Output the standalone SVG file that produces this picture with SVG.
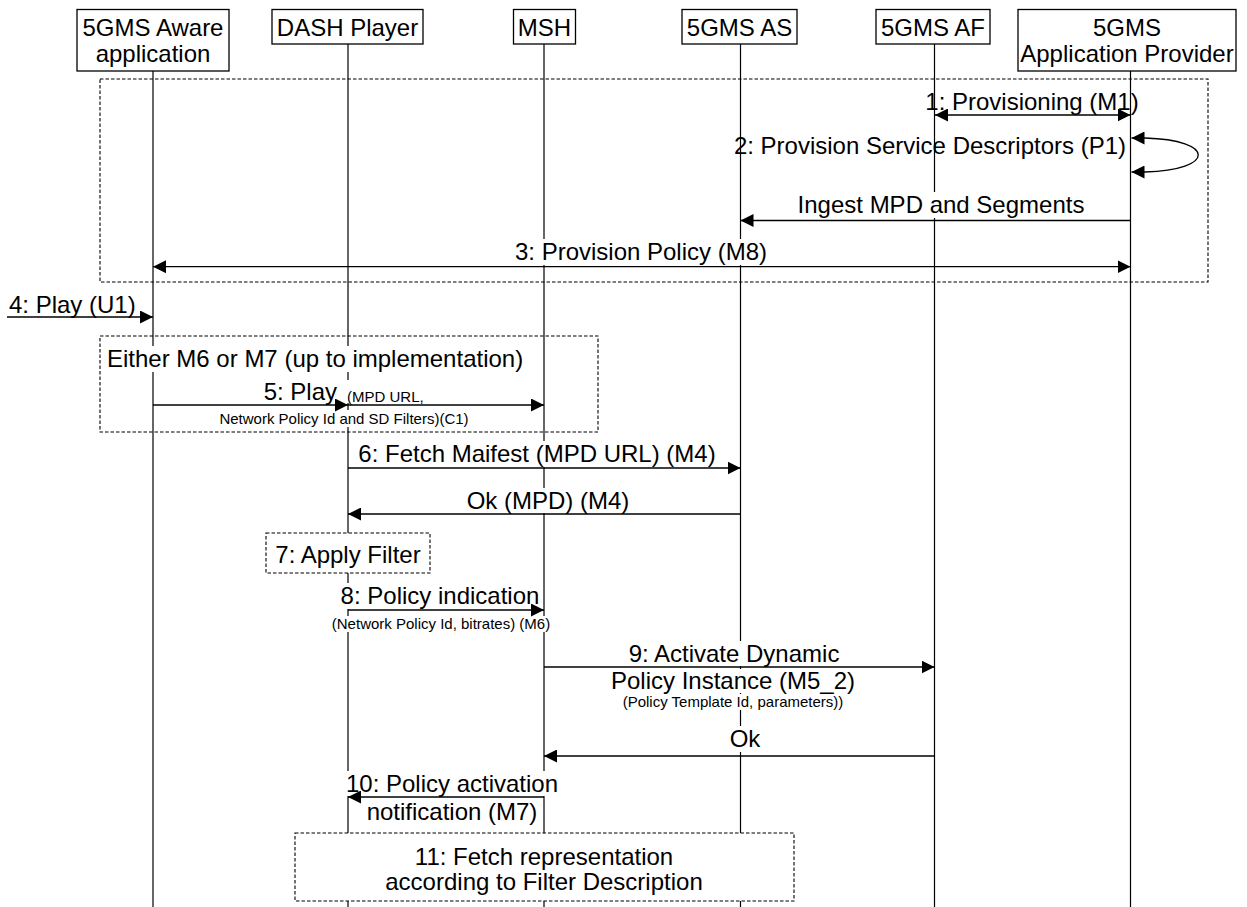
<svg xmlns="http://www.w3.org/2000/svg" width="1247" height="907" viewBox="0 0 1247 907">
<defs>
<style>
text{font-family:"Liberation Sans",Arial,sans-serif;fill:#000}
.t{font-size:24px}
.s{font-size:15px}
.m{text-anchor:middle}
.e{text-anchor:end}
.hdr{fill:#fff;stroke:#000;stroke-width:1.3}
.life{stroke:#000;stroke-width:1.2;fill:none}
.frame{fill:none;stroke:#000;stroke-width:1.1;stroke-dasharray:3.5 2}
.wframe{fill:#fff;stroke:#000;stroke-width:1.1;stroke-dasharray:3.5 2}
.bg{fill:#fff}
.msg{stroke:#000;stroke-width:1.3;fill:none;marker-end:url(#ah)}
.dbl{marker-start:url(#ahs)}
</style>
<marker id="ah" viewBox="0 0 13 13" refX="13" refY="6.5" markerWidth="13" markerHeight="13" markerUnits="userSpaceOnUse" orient="auto"><path d="M0,0 L13,6.5 L0,13 z" fill="#000"/></marker>
<marker id="ahs" viewBox="0 0 13 13" refX="13" refY="6.5" markerWidth="13" markerHeight="13" markerUnits="userSpaceOnUse" orient="auto-start-reverse"><path d="M0,0 L13,6.5 L0,13 z" fill="#000"/></marker>
</defs>
<rect width="1247" height="907" fill="#fff"/>

<g id="lifelines">
<line class="life" x1="153" y1="71" x2="153" y2="907"/>
<line class="life" x1="348" y1="44" x2="348" y2="907"/>
<line class="life" x1="544" y1="44" x2="544" y2="907"/>
<line class="life" x1="740.5" y1="44" x2="740.5" y2="907"/>
<line class="life" x1="934.5" y1="44" x2="934.5" y2="907"/>
<line class="life" x1="1130.5" y1="71" x2="1130.5" y2="907"/>
</g>

<g id="frames">
<rect class="frame" x="100" y="79" width="1108" height="203"/>
<rect class="frame" x="100" y="336" width="498" height="96"/>
</g>

<g id="label-backgrounds">
<rect class="bg" x="795" y="192" width="292" height="26"/>
<rect class="bg" x="513" y="239" width="256" height="26"/>
<rect class="bg" x="105" y="346" width="418" height="26"/>
<rect class="bg" x="259" y="380" width="92" height="23"/>
<rect class="bg" x="344" y="390" width="78" height="13"/>
<rect class="bg" x="218" y="410" width="252" height="17"/>
<rect class="bg" x="357" y="441" width="360" height="26"/>
<rect class="bg" x="466" y="488" width="164" height="25"/>
<rect class="bg" x="340" y="583" width="200" height="26"/>
<rect class="bg" x="330" y="616" width="222" height="16"/>
<rect class="bg" x="626" y="641" width="216" height="25"/>
<rect class="bg" x="610" y="669" width="247" height="24"/>
<rect class="bg" x="620" y="694" width="227" height="16"/>
<rect class="bg" x="728" y="726" width="34" height="26"/>
<rect class="bg" x="345" y="771" width="215" height="25"/>
</g>

<g id="connectors">
<line class="msg dbl" x1="935" y1="115" x2="1130.5" y2="115"/>
<path class="msg dbl" d="M1131.5,138 L1145,138 C1216,140 1216,170 1145,172 L1131.5,172"/>
<line class="msg" x1="1130.5" y1="220.5" x2="740.5" y2="220.5"/>
<line class="msg dbl" x1="153" y1="266.7" x2="1130.5" y2="266.7"/>
<line class="msg" x1="7" y1="317" x2="153" y2="317"/>
<line class="msg" x1="153" y1="405" x2="348" y2="405"/>
<line class="msg" x1="348" y1="405" x2="544" y2="405"/>
<line class="msg" x1="348" y1="468" x2="740.5" y2="468"/>
<line class="msg" x1="740.5" y1="514" x2="348" y2="514"/>
<line class="msg" x1="348" y1="610" x2="544" y2="610"/>
<line class="msg" x1="544" y1="667" x2="934.5" y2="667"/>
<line class="msg" x1="934.5" y1="756" x2="544" y2="756"/>
<line class="msg" x1="544" y1="797" x2="348" y2="797"/>
</g>

<g id="labels">
<text class="t m" x="1032" y="110">1: Provisioning (M1)</text>
<text class="t e" x="1126" y="154">2: Provision Service Descriptors (P1)</text>
<text class="t m" x="941" y="213">Ingest MPD and Segments</text>
<text class="t m" x="641" y="260">3: Provision Policy (M8)</text>
<text class="t" x="9" y="313">4: Play (U1)</text>
<text class="t" x="107" y="367">Either M6 or M7 (up to implementation)</text>
<text class="t e" x="337" y="400">5: Play</text>
<text class="s" x="347" y="402">(MPD URL,</text>
<text class="s m" x="344" y="424">Network Policy Id and SD Filters)(C1)</text>
<text class="t m" x="537" y="462">6: Fetch Maifest (MPD URL) (M4)</text>
<text class="t m" x="548" y="509">Ok (MPD) (M4)</text>
<text class="t m" x="440" y="604">8: Policy indication</text>
<text class="s m" x="441" y="629">(Network Policy Id, bitrates) (M6)</text>
<text class="t m" x="734" y="662">9: Activate Dynamic</text>
<text class="t m" x="733" y="689">Policy Instance (M5_2)</text>
<text class="s m" x="733" y="707">(Policy Template Id, parameters))</text>
<text class="t m" x="745" y="747">Ok</text>
<text class="t m" x="452" y="792">10: Policy activation</text>
<text class="t m" x="452" y="820">notification (M7)</text>
</g>

<g id="step7">
<rect class="wframe" x="266" y="533" width="164" height="40"/>
<text class="t m" x="348" y="563">7: Apply Filter</text>
</g>

<g id="step11">
<rect class="wframe" x="295" y="833" width="499" height="68"/>
<text class="t m" x="544" y="865">11: Fetch representation</text>
<text class="t m" x="544" y="890">according to Filter Description</text>
</g>

<g id="aware-app">
<rect class="hdr" x="77" y="9.5" width="152" height="61.5"/>
<text class="t m" x="153" y="36">5GMS Aware</text>
<text class="t m" x="153" y="62">application</text>
</g>
<g id="dash-player">
<rect class="hdr" x="272" y="9.5" width="151" height="34.5"/>
<text class="t m" x="347.5" y="36">DASH Player</text>
</g>
<g id="msh">
<rect class="hdr" x="513.5" y="9.5" width="62" height="34.5"/>
<text class="t m" x="544.5" y="36">MSH</text>
</g>
<g id="gms-as">
<rect class="hdr" x="682" y="9.5" width="115" height="34.5"/>
<text class="t m" x="739.5" y="36">5GMS AS</text>
</g>
<g id="gms-af">
<rect class="hdr" x="876" y="9.5" width="114" height="34.5"/>
<text class="t m" x="933" y="36">5GMS AF</text>
</g>
<g id="app-provider">
<rect class="hdr" x="1018" y="9.5" width="218" height="61.5"/>
<text class="t m" x="1127" y="36">5GMS</text>
<text class="t m" x="1127" y="62">Application Provider</text>
</g>
</svg>
